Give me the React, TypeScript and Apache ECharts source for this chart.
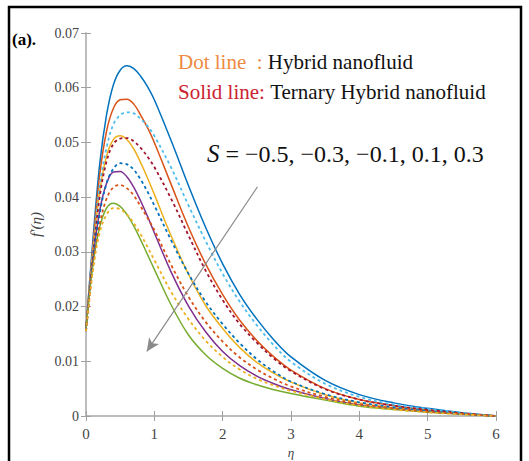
import React, { useEffect, useRef } from "react";
import * as echarts from "echarts";

const eta = [0, 0.1, 0.2, 0.3, 0.4, 0.5, 0.6, 0.7, 0.8, 0.9, 1.0, 1.25, 1.5, 1.75, 2.0, 2.25, 2.5, 2.75, 3.0, 3.5, 4.0, 4.5, 5.0, 5.5, 6.0];

// Solid lines: Ternary hybrid nanofluid
const solidBlue = [0.016, 0.032, 0.046, 0.055, 0.0605, 0.0632, 0.064, 0.0635, 0.0621, 0.0602, 0.0578, 0.0502, 0.0421, 0.0345, 0.0278, 0.0222, 0.0177, 0.0139, 0.0108, 0.0065, 0.0039, 0.0024, 0.0014, 0.0006, 0];
const solidOrange = [0.016, 0.031, 0.044, 0.052, 0.0562, 0.0578, 0.0579, 0.057, 0.055, 0.0527, 0.05, 0.0422, 0.0345, 0.0278, 0.0222, 0.0175, 0.0138, 0.0108, 0.0084, 0.005, 0.003, 0.0019, 0.0011, 0.0005, 0];
const solidYellow = [0.016, 0.03, 0.041, 0.0475, 0.0505, 0.0512, 0.0505, 0.0488, 0.0463, 0.0435, 0.0405, 0.0328, 0.0259, 0.0202, 0.016, 0.0125, 0.0098, 0.0078, 0.0062, 0.0039, 0.0024, 0.0015, 0.0009, 0.0004, 0];
const solidPurple = [0.016, 0.0285, 0.0375, 0.0425, 0.0446, 0.0447, 0.0437, 0.0418, 0.0393, 0.0365, 0.0335, 0.0262, 0.0201, 0.0154, 0.0118, 0.0092, 0.0073, 0.0059, 0.0048, 0.0032, 0.002, 0.0013, 0.0008, 0.0004, 0];
const solidGreen = [0.016, 0.0275, 0.0345, 0.038, 0.0389, 0.0383, 0.0368, 0.0347, 0.0322, 0.0295, 0.0268, 0.0202, 0.0148, 0.0112, 0.0087, 0.0069, 0.0057, 0.0048, 0.0041, 0.0029, 0.0018, 0.0012, 0.0007, 0.0003, 0];

// Dot lines: Hybrid nanofluid
const dotLightBlue = [0.0155, 0.03, 0.042, 0.049, 0.0533, 0.055, 0.0555, 0.0553, 0.0543, 0.053, 0.0512, 0.0453, 0.0385, 0.032, 0.026, 0.0209, 0.0166, 0.0129, 0.0099, 0.0059, 0.0035, 0.0021, 0.0013, 0.0006, 0];
const dotDarkRed = [0.0155, 0.029, 0.04, 0.0465, 0.0497, 0.0507, 0.0508, 0.0502, 0.049, 0.0474, 0.0455, 0.0396, 0.033, 0.0266, 0.0212, 0.0168, 0.0134, 0.0105, 0.0082, 0.0049, 0.003, 0.0019, 0.0011, 0.0005, 0];
const dotBlue = [0.0155, 0.028, 0.037, 0.0425, 0.0452, 0.0462, 0.046, 0.045, 0.0432, 0.041, 0.0385, 0.032, 0.026, 0.0209, 0.0168, 0.0133, 0.0104, 0.0081, 0.0063, 0.004, 0.0025, 0.0016, 0.0009, 0.0004, 0];
const dotOrange = [0.0155, 0.027, 0.035, 0.0397, 0.0418, 0.0422, 0.0416, 0.0403, 0.0383, 0.0362, 0.034, 0.0275, 0.0218, 0.0172, 0.0136, 0.0107, 0.0085, 0.0068, 0.0054, 0.0035, 0.0022, 0.0014, 0.0008, 0.0004, 0];
const dotYellow = [0.0155, 0.0265, 0.0335, 0.0368, 0.038, 0.0378, 0.0368, 0.0352, 0.0332, 0.0309, 0.0285, 0.0226, 0.0177, 0.0138, 0.0108, 0.0085, 0.0068, 0.0056, 0.0046, 0.0031, 0.0019, 0.0012, 0.0007, 0.0003, 0];

const xTicks = [0, 1, 2, 3, 4, 5, 6];
const yTicks = [0, 0.01, 0.02, 0.03, 0.04, 0.05, 0.06, 0.07];

const arrowStart = [2.51, 0.0419];
const arrowEnd = [0.89, 0.0118];

const SERIF = "Liberation Serif";

export default function App() {
  const ref = useRef<HTMLDivElement>(null);
  useEffect(() => {
    if (!ref.current) return;
    const chart = echarts.init(ref.current, undefined, { renderer: "svg" });
    const pair = (ys: number[]) => eta.map((x, i) => [x, ys[i]]);
    const mk = (name: string, ys: number[], color: string, dashed: boolean) => ({
      name,
      type: "line",
      data: pair(ys),
      smooth: 0.35,
      showSymbol: false,
      symbol: "none",
      lineStyle: { color, width: dashed ? 1.8 : 1.5, type: dashed ? [3, 3] : "solid" },
      z: dashed ? 3 : 2,
    });
    const axisCommon = {
      axisLine: { show: true, lineStyle: { color: "#b8b8b8", width: 1.5 } },
      axisTick: { show: true, inside: true, length: 5, lineStyle: { color: "#a0a0a0" } },
      splitLine: { show: false },
    };
    const series: any[] = [
      mk("Solid S=-0.5", solidBlue, "#0072BD", false),
      mk("Solid S=-0.3", solidOrange, "#D95319", false),
      mk("Solid S=-0.1", solidYellow, "#EDB120", false),
      mk("Solid S=0.1", solidPurple, "#7E2F8E", false),
      mk("Solid S=0.3", solidGreen, "#77AC30", false),
      mk("Dot S=-0.5", dotLightBlue, "#4DBEEE", true),
      mk("Dot S=-0.3", dotDarkRed, "#A2142F", true),
      mk("Dot S=-0.1", dotBlue, "#0072BD", true),
      mk("Dot S=0.1", dotOrange, "#D95319", true),
      mk("Dot S=0.3", dotYellow, "#EDB120", true),
    ];
    series[0].markLine = {
      silent: true,
      symbol: ["none", "arrow"],
      symbolSize: [9, 13],
      label: { show: false },
      lineStyle: { color: "#8a8a8a", width: 1.2, type: "solid" },
      data: [[{ coord: arrowStart }, { coord: arrowEnd, itemStyle: { color: "#333" } }]],
    };
    chart.setOption({
      animation: false,
      backgroundColor: "#ffffff",
      textStyle: { fontFamily: SERIF },
      grid: { left: 86, top: 33, width: 410, height: 383, containLabel: false, outerBoundsMode: "none" },
      xAxis: [
        {
          type: "value",
          min: 0,
          max: 6,
          interval: 1,
          name: "η",
          nameLocation: "middle",
          nameGap: 29,
          nameTextStyle: { fontFamily: SERIF, fontStyle: "italic", fontSize: 13, color: "#444" },
          axisLabel: {
            fontFamily: SERIF,
            fontSize: 15,
            color: "#444",
            margin: 10,
            formatter: (v: number) => (xTicks.includes(v) ? String(v) : ""),
          },
          ...axisCommon,
        },
        {
          type: "value",
          position: "top",
          min: 0,
          max: 6,
          interval: 1,
          axisLabel: { show: false },
          ...axisCommon,
        },
      ],
      yAxis: [
        {
          type: "value",
          min: 0,
          max: 0.07,
          interval: 0.01,
          name: "f′(η)",
          nameLocation: "middle",
          nameGap: 38,
          nameTextStyle: { fontFamily: SERIF, fontStyle: "italic", fontSize: 15, color: "#444" },
          axisLabel: {
            fontFamily: SERIF,
            fontSize: 14,
            color: "#444",
            margin: 7,
            formatter: (v: number) => {
              const t = yTicks.find((y) => Math.abs(y - v) < 1e-9);
              return t === undefined ? "" : t === 0 ? "0" : t.toFixed(2);
            },
          },
          ...axisCommon,
        },
        {
          type: "value",
          position: "right",
          min: 0,
          max: 0.07,
          interval: 0.01,
          axisLabel: { show: false },
          ...axisCommon,
        },
      ],
      graphic: [
        {
          type: "rect",
          shape: { x: 9, y: 7, width: 512, height: 480 },
          style: { fill: "none", stroke: "#000", lineWidth: 2.5 },
          silent: true,
        },
        {
          type: "text",
          left: 12,
          top: 31,
          style: { text: "(a).", fontFamily: SERIF, fontWeight: "bold", fontSize: 17, fill: "#000" },
        },
        {
          type: "text",
          left: 178,
          top: 51,
          style: {
            text: "{o|Dot line  }{o|: }{k|Hybrid nanofluid}",
            rich: {
              o: { fontFamily: SERIF, fontSize: 21, fill: "#EE8A44" },
              k: { fontFamily: SERIF, fontSize: 21, fill: "#111" },
            },
          },
        },
        {
          type: "text",
          left: 178,
          top: 81,
          style: {
            text: "{r|Solid line: }{k|Ternary Hybrid nanofluid}",
            rich: {
              r: { fontFamily: SERIF, fontSize: 21, fill: "#CC2230" },
              k: { fontFamily: SERIF, fontSize: 21, fill: "#111" },
            },
          },
        },
        {
          type: "text",
          left: 207,
          top: 141,
          style: {
            text: "{i|S}{n| = −0.5, −0.3, −0.1, 0.1, 0.3}",
            rich: {
              i: { fontFamily: SERIF, fontSize: 25, fontStyle: "italic", fill: "#111" },
              n: { fontFamily: SERIF, fontSize: 24, fill: "#111" },
            },
          },
        },
      ],
      series,
    });
    return () => chart.dispose();
  }, []);
  return <div ref={ref} style={{ position: "absolute", left: 0, top: 0, width: 529, height: 461 }} />;
}
